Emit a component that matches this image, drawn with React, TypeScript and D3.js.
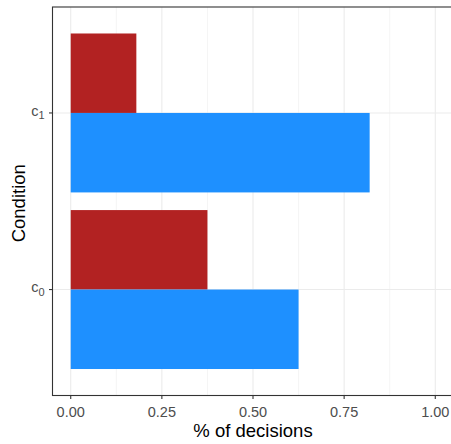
import React from "react";
import * as d3 from "d3";

const categories = ["c0", "c1"];
const seriesNames = ["red", "blue"];
const redValues = [0.375, 0.18];
const blueValues = [0.625, 0.82];
const xTicks = [0, 0.25, 0.5, 0.75, 1.0];
const xMinor = [0.125, 0.375, 0.625, 0.875];
const colors = ["#B22222", "#1E90FF"];

const W = 451;
const H = 444;
const panel = { left: 52.5, top: 7, right: 453.5, bottom: 395.5 };

export default function App() {
  const x = d3.scaleLinear().domain([-0.05, 1.05]).range([panel.left, panel.right]);
  const y = d3.scaleLinear().domain([0.4, 2.6]).range([panel.bottom, panel.top]);
  const barW = 0.9;
  const series = [redValues, blueValues];
  const font = "'Liberation Sans', Arial, sans-serif";

  return (
    <svg
      width={W}
      height={H}
      style={{ position: "absolute", left: 0, top: 0, background: "#fff" }}
      fontFamily={font}
    >
      <defs>
        <clipPath id="pc">
          <rect x={panel.left} y={panel.top} width={panel.right - panel.left} height={panel.bottom - panel.top} />
        </clipPath>
      </defs>
      <rect x={panel.left} y={panel.top} width={panel.right - panel.left} height={panel.bottom - panel.top} fill="#fff" />
      <g clipPath="url(#pc)">
        {xMinor.map((t) => (
          <line key={"mi" + t} x1={x(t)} x2={x(t)} y1={panel.top} y2={panel.bottom} stroke="#EBEBEB" strokeWidth={0.55} />
        ))}
        {xTicks.map((t) => (
          <line key={"ma" + t} x1={x(t)} x2={x(t)} y1={panel.top} y2={panel.bottom} stroke="#EBEBEB" strokeWidth={1.1} />
        ))}
        {categories.map((c, i) => (
          <line key={"hy" + c} x1={panel.left} x2={panel.right} y1={y(i + 1)} y2={y(i + 1)} stroke="#EBEBEB" strokeWidth={1.1} />
        ))}
        {categories.map((c, i) =>
          series.map((vals, s) => {
            const top = s === 0 ? i + 1 + barW / 2 : i + 1;
            const bot = s === 0 ? i + 1 : i + 1 - barW / 2;
            return (
              <rect
                key={c + seriesNames[s]}
                x={x(0)}
                y={y(top)}
                width={x(vals[i]) - x(0)}
                height={y(bot) - y(top)}
                fill={colors[s]}
              />
            );
          })
        )}
      </g>
      <rect
        x={panel.left}
        y={panel.top}
        width={panel.right - panel.left}
        height={panel.bottom - panel.top}
        fill="none"
        stroke="#333333"
        strokeWidth={1.1}
      />
      {xTicks.map((t) => (
        <g key={"xt" + t}>
          <line x1={x(t)} x2={x(t)} y1={panel.bottom} y2={panel.bottom + 3.5} stroke="#333333" strokeWidth={1.1} />
          <text x={x(t)} y={panel.bottom + 21.5} textAnchor="middle" fontSize={14.5} fill="#4D4D4D">
            {t.toFixed(2)}
          </text>
        </g>
      ))}
      {categories.map((c, i) => (
        <g key={"yt" + c}>
          <line x1={panel.left - 3.5} x2={panel.left} y1={y(i + 1)} y2={y(i + 1)} stroke="#333333" strokeWidth={1.1} />
          <text x={panel.left - 8} y={y(i + 1) + 2.7} textAnchor="end" fontSize={14.5} fill="#4D4D4D">
            {c[0]}
            <tspan fontSize={11} dy={3.3}>{c.slice(1)}</tspan>
          </text>
        </g>
      ))}
      <text x={(panel.left + panel.right) / 2} y={436.5} textAnchor="middle" fontSize={18.5} fill="#000">
        % of decisions
      </text>
      <text
        transform={`translate(25, ${(panel.top + panel.bottom) / 2 + 2}) rotate(-90)`}
        textAnchor="middle"
        fontSize={18.5}
        fill="#000"
      >
        Condition
      </text>
    </svg>
  );
}
